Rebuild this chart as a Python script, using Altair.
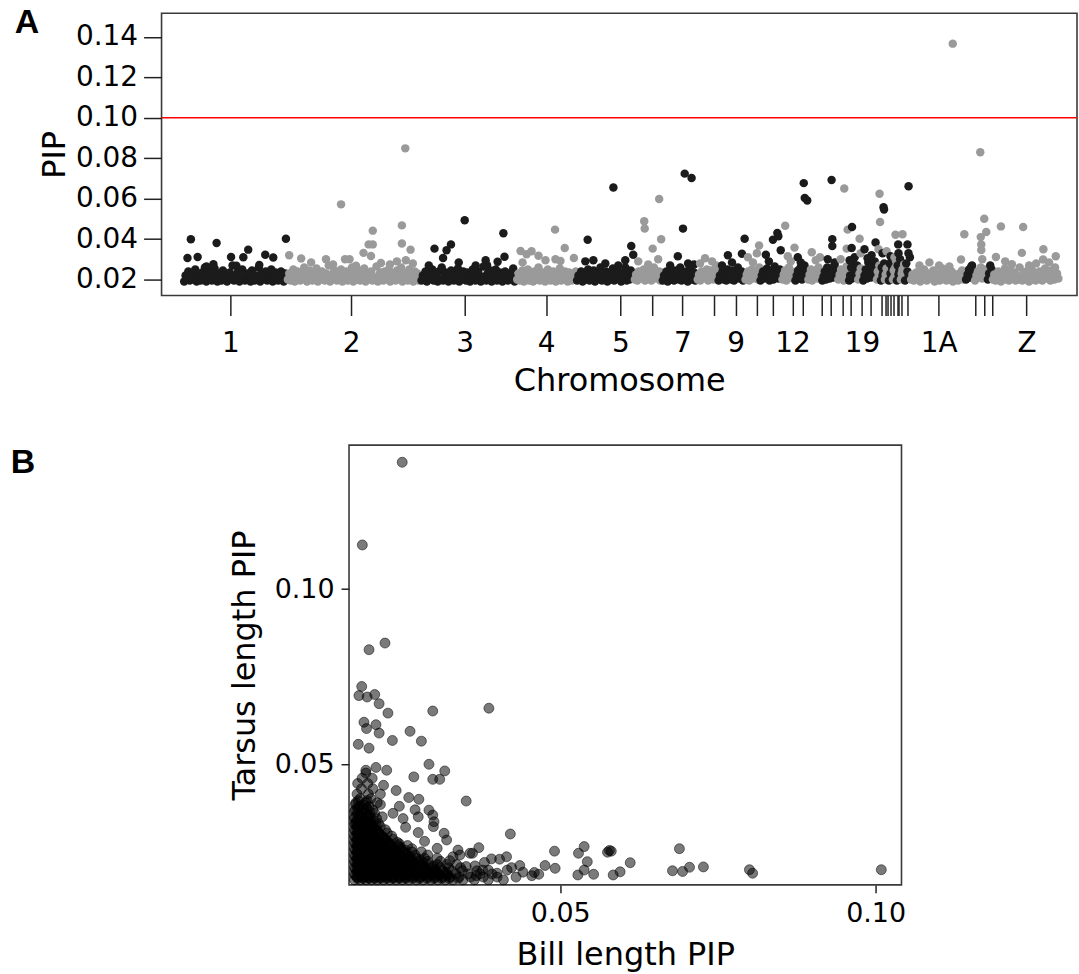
import altair as alt
import pandas as pd

FONT = "DejaVu Sans"
INK = "#222222"

# ---------------- Panel A: genome-wide PIP (Manhattan plot) ----------------
chrom_names = ["1", "2", "3", "4", "5", "6", "7", "8", "9", "10", "11", "12", "13", "14", "15",
               "17", "18", "19", "20", "21", "22", "23", "24", "25", "26", "27", "28",
               "1A", "1B", "4A", "LGE22", "Z"]
chrom_start = [22, 126, 260, 356, 416, 474, 502, 537, 558, 585, 600, 622, 635, 648, 662,
               678, 689, 698, 703, 717, 721, 725, 729, 733, 737, 741, 745,
               751, 806, 815, 828, 833]
chrom_end = [126, 260, 356, 416, 474, 502, 537, 558, 585, 600, 622, 635, 648, 662, 678,
             689, 698, 703, 717, 721, 725, 729, 733, 737, 741, 745, 751,
             806, 815, 828, 833, 900]
chrom_shade = ["dark", "light"] * 16

# background SNP PIPs (x 1e-3), in genome order within each chromosome
band_pip = [
    "19 22 20.5 24 19.5 21 23 20 25 19 22.5 21 19.5 23.5 20 26 19 21.5 24 20.5 19.5 22 25.5 20 19 23 21 19.5 24.5 22 20 19 21.5 23.5 20.5 27 19.5 22 20 24 19 21 25 20.5 19.5 22.5 23 20 19 24.5 21.5 19.5 22 20 26 19 23 21 20.5 24 19.5 22 20 25 19 21.5 23.5 20 19.5 22.5 24 21 19 23 20.5",
    "20 23 19.5 21.5 25 19 22 24 20.5 19.5 23.5 21 26 20 19 22.5 24.5 20.5 19.5 21 23 25.5 19 20 22 24 21.5 19.5 23 20 27 19 22.5 21 24.5 20.5 19.5 23 22 25 19 20 21.5 24 19.5 22.5 20.5 26 19 21 23.5 20 24.5 19.5 22 21 25.5 19 20.5 23 22 24 19.5 21 20 26.5 19 22.5 23.5 20.5 19.5 24 21 22 25 19 20 23 21.5 19.5 24.5 20.5 22 26 19 21 23 20 19.5 25 22.5 21 19 24 20.5 23 19.5 21.5",
    "19.5 22 20 24 19 21.5 23 20.5 25 19.5 22.5 21 19 24 20 26 19.5 21 23.5 20.5 19 22 24.5 20 19.5 21.5 23 25.5 19 20.5 22 24 21 19.5 23.5 20 19 22.5 25 20.5 19.5 21 24 22 19 20 26.5 21.5 19.5 23 20.5 24.5 19 22 21 25 19.5 20 23.5 22 19 21.5 24 20.5 19.5 23 22.5 20 25.5 19 21",
    "20 23 19.5 21.5 24.5 19 22 20.5 25 19.5 23 21 19 24 22 20 26 19.5 21.5 23.5 20.5 19 22.5 25 20 19.5 21 24 22 19 23 20.5 25.5 19.5 21.5 22 24 20 19 23.5 21 19.5 22.5 20.5 24",
    "19.5 22 20.5 24 19 21.5 23 20 25 19.5 22.5 21 24.5 19 20 23.5 22 26 19.5 21 20.5 24 19 22.5 23 20 25.5 19.5 21.5 22 24 20.5 19 23 21 26 19.5 22.5 20 24.5 21.5 23",
    "20 22.5 19.5 24 21 23 20.5 25 19.5 22 21.5 24.5 20 19.5 23 26 21 20.5 22.5 24 19.5 23.5",
    "19.5 22 20.5 24 19 21.5 23 25 20 19.5 22.5 24.5 21 20 26 19.5 23 21.5 20.5 24 19 22 25.5 20 21 23.5 19.5 22",
    "20 22.5 19.5 24 21 23 20.5 25 19.5 22 24.5 21 20 23.5 26 21.5",
    "19.5 22 21 24 20 23 19.5 25 21.5 22.5 20 24.5 19.5 23.5 21 26 20.5 22 24 19.5 23",
    "20 22.5 24 19.5 21.5 25 20.5 23 22 24.5 20 26",
    "19.5 22 24 20.5 23 25.5 21 19.5 22.5 24.5 20 26.5 21.5 23.5 20.5 25 22",
    "20 22.5 24.5 19.5 23 26 21 24 20.5 22",
    "19.5 22 24.5 21 26 20 23.5 27 21.5 24",
    "20 22.5 25 19.5 23.5 21 24.5 20.5 26 22 23",
    "19.5 21.5 24 20 26 22.5 20.5 25.5 23 21 27 24 22",
    "20 22.5 25 21 19.5 24 26.5 22",
    "19.5 22 26 20.5 28 23 21 25 27",
    "20 23 25.5 21.5",
    "19.5 22 25 20.5 28.5 23 21 26 24 29 22.5",
    "20 24 21.5 27 23",
    "19.5 26 22 23.5 28",
    "20 22.5 25.5 21 24",
    "19.5 28 23 21 25.5",
    "20 24.5 21.5 26 29",
    "19.5 27 22.5 24 30",
    "20 23 25 21.5 27.5",
    "19.5 28 24 22 31",
    "20 22.5 19.5 21 23.5 20.5 24 19 22 21.5 25 20 19.5 23 21 20.5 22.5 24.5 19 21.5 20 23 19.5 22 25.5 20.5 21 19.5 23.5 22 20 24 19 21 22.5 20.5 19.5 23 21.5 24.5 20 22",
    "20 22.5 25 21 27 23.5",
    "19.5 22 24 21 26 20.5 23 25 22.5",
    "20 23 21.5 25",
    "20 22.5 19.5 21.5 24 20.5 19 23 21 25.5 20 22 19.5 24.5 20.5 21 23.5 19.5 22 20 26 21 19.5 23 20.5 24 22 19 21.5 25 20 23.5 19.5 22.5 21 24 20 19.5 22 25.5 21 20.5 23 19.5 24.5 22 20 21.5 23 20.5",
]

# higher-PIP SNPs: chromosome -> [(position, PIP x 1e-3)]
peak_snps = {
    "1": [(29.4, 39.9), (55.2, 38.1), (26, 30.7), (36.2, 31.2), (69.7, 31.2), (82, 31), (86.9, 34.8),
          (104, 32.3), (112, 30.9), (124.7, 40.2), (52, 27.6), (98, 27.2), (45, 26.5), (75, 26.8)],
    "2": [(180, 57.2), (211.8, 44.2), (207.7, 37.4), (211.8, 37.4), (202.5, 33.2), (210, 31.7), (241, 46.8),
          (241, 37.8), (244.4, 84.9), (249.7, 34.8), (245, 29.5), (164.9, 30), (184, 30), (188.5, 30),
          (128, 32), (140, 30.4), (229, 27.4), (252, 28), (172, 27.5), (150, 28.5), (195, 26.8),
          (220, 28.2), (236, 29)],
    "3": [(273.7, 35.3), (282.3, 30.7), (285.8, 34.5), (290.2, 37.4), (304, 49.3), (326.4, 27.1), (337, 28.8),
          (342.8, 42.9), (343.9, 31.3), (315, 27), (325, 29.5), (298, 28.5), (268, 27)],
    "4": [(360, 34.1), (366, 32.5), (371, 34), (394.6, 44.7), (404.3, 35.6), (413.5, 30.7), (395, 30),
          (385, 29.5), (378, 31.8), (362, 28.5), (400, 29.2)],
    "5": [(427.3, 39.7), (453.1, 65.5), (471, 36.6), (473, 32.3), (445, 28), (465, 29.5), (433, 29.5),
          (425, 29), (458, 27)],
    "6": [(484, 48.8), (484.5, 45.2), (492.5, 35.3), (499, 59.8), (501, 39.9), (498, 30), (478, 29), (488, 27.5)],
    "7": [(524.6, 72.4), (531.5, 70.2), (522.9, 45.2), (517.7, 31.5), (528, 28), (510, 27), (534, 27.5)],
    "8": [(540, 28), (545, 30.5), (552, 29), (556, 27)],
    "9": [(567.9, 32), (584.7, 40.2), (582, 32.8), (572, 28.5), (562, 27)],
    "10": [(599.2, 36.9), (588, 31), (593, 28.5), (597, 33)],
    "11": [(606, 32.3), (613.1, 39.7), (617.5, 43), (618.5, 41.4), (620.9, 34.5), (609, 29)],
    "12": [(625.4, 46.6), (634.7, 35.8), (628, 31.5), (631, 29)],
    "13": [(644, 67.7), (645, 60.4), (647.5, 59.1), (641, 28.5), (638, 31)],
    "14": [(660.3, 31), (652, 33.5), (656, 29.5)],
    "15": [(671.9, 69.3), (672.6, 40), (672.6, 36.6), (668, 30), (675, 28.5)],
    "17": [(684.6, 65), (688, 44.7), (687, 35.3), (681, 30)],
    "18": [(692.4, 46), (692, 35.6), (695, 31), (690, 29.5)],
    "19": [(700, 40.2), (701, 33)],
    "20": [(704.9, 35), (716, 38.3), (712, 32), (708, 30.5)],
    "21": [(720, 62.4), (720.5, 48.5), (719, 35)],
    "22": [(724, 55.8), (724.5, 54.7), (723, 33)],
    "23": [(727, 34)],
    "24": [(731, 31.5)],
    "25": [(736, 42.2), (735, 31)],
    "26": [(738.7, 37.4), (739, 33)],
    "27": [(743, 42.4)],
    "28": [(749.1, 66.2), (748, 37.4), (749, 33)],
    "1A": [(779.7, 27), (793.4, 136.7), (805, 42.4), (801.7, 29.9), (770, 28.5), (760, 27), (790, 26.5)],
    "1B": [(812, 26.5)],
    "4A": [(821, 83), (825, 50.1), (821.5, 41), (822, 37.4), (822, 34.6), (827, 43.5), (823, 30)],
    "LGE22": [(831, 27)],
    "Z": [(836.7, 31.2), (841.7, 46.3), (852.7, 27.6), (862.7, 33.2), (864, 46), (870, 27), (884.3, 35),
          (884, 29.9), (896.7, 31.5), (896, 26), (846, 29), (877, 28), (890, 28.5)],
}

tick_pos = [69, 190, 304, 385.7, 460, 492.3, 522.3, 554.3, 575.7, 597.3, 613.3, 632.7, 642.7, 662.3,
            670.7, 683.3, 690.7, 702.3, 711, 722.3, 725.7, 728.3, 731, 734.3, 737.5, 739.3, 742.3,
            747.7, 779.3, 815.7, 824.7, 833.3, 867.3]
tick_text = ["1", "2", "3", "4", "5", "", "7", "", "9", "", "", "12", "", "", "", "", "", "19", "",
             "", "", "", "", "", "", "", "", "", "1A", "", "", "", "Z"]
threshold = [0.10]

rows = []
for name, s, e, shade, band in zip(chrom_names, chrom_start, chrom_end, chrom_shade, band_pip):
    vals = [float(v) for v in band.split()]
    n = len(vals)
    for i, v in enumerate(vals):
        rows.append({"chrom": name, "pos": s + (i + 0.5) * (e - s) / n, "pip": v / 1000, "shade": shade})
    for p, v in peak_snps.get(name, []):
        rows.append({"chrom": name, "pos": p, "pip": v / 1000, "shade": shade})
df_a = pd.DataFrame(rows)

label_expr = " : ".join(
    f"abs(datum.value - {p}) < 0.05 ? '{t}'" for p, t in zip(tick_pos, tick_text) if t
) + " : ''"

x_a = alt.X("pos:Q", title="Chromosome",
            scale=alt.Scale(domain=[0, 918], nice=False, zero=False),
            axis=alt.Axis(values=tick_pos, labelExpr=label_expr, tickSize=20, labelPadding=14,
                          titlePadding=8, labelOverlap=False, labelFlush=False))
y_a = alt.Y("pip:Q", title="PIP",
            scale=alt.Scale(domain=[0.0121, 0.1517], nice=False, zero=False),
            axis=alt.Axis(values=[0.02, 0.04, 0.06, 0.08, 0.10, 0.12, 0.14], format=".2f",
                          tickSize=18, labelPadding=6, titlePadding=4))

pts_a = alt.Chart(df_a).mark_circle(size=72, opacity=1).encode(
    x=x_a, y=y_a,
    color=alt.Color("shade:N", scale=alt.Scale(domain=["dark", "light"], range=["#1b1b1b", "#9a9a9a"]),
                    legend=None),
)
rule_a = alt.Chart(pd.DataFrame({"pip": threshold})).mark_rule(color="#ff0000", strokeWidth=1.5).encode(
    y=alt.Y("pip:Q"))
lab_a = alt.Chart(pd.DataFrame({"t": ["A"]})).mark_text(
    font="Liberation Sans", fontWeight="bold", fontSize=34, align="center", baseline="middle", color="black"
).encode(text="t:N", x=alt.value(-135), y=alt.value(10))

top = alt.layer(pts_a, rule_a, lab_a).properties(width=918, height=283)

# ---------------- Panel B: bill vs tarsus PIP ----------------
# dense cloud: tarsus PIP (x 1e-3) -> bill PIPs (x 1e-3)
cloud_rows = {
    17.0: "17.4 18.3 19.2 20.1 21 22 23 24 25 26 27.2 28.3 29.5 30.6 31.8 33 34.6 36.4 38.6 41",
    17.4: "17.9 18.8 19.7 20.6 21.5 22.5 23.5 24.5 25.5 26.6 27.7 28.9 30 31.2 32.4 33.8",
    17.8: "17.8 18.8 19.7 20.6 21.5 22.5 23.5 24.5 25.6 26.7 27.8 29 30.2 31.3 32.5 34 35.8 37.8 40 43",
    18.3: "17.5 18.4 19.3 20.2 21.1 22 23 24 25 26.1 27.2 28.4 29.6 30.8 32.2",
    18.7: "17.4 18.3 19.2 20.2 21.1 22 23 24 25 26 27.2 28.4 29.6 30.8 32 33.5 35.4 37.3 39.2",
    19.2: "17.9 18.9 19.8 20.7 21.6 22.6 23.6 24.6 25.7 26.8 27.9 29.1 30.4 31.8",
    19.6: "17.8 18.8 19.7 20.7 21.6 22.6 23.6 24.6 25.6 26.7 27.8 29 30.2 31.4 32.8 34.5 36.8",
    20.1: "17.5 18.4 19.3 20.3 21.2 22.2 23.2 24.2 25.3 26.4 27.5 28.8 30.2",
    20.5: "17.4 18.3 19.3 20.2 21.2 22.1 23.1 24.1 25.1 26.2 27.3 28.5 29.7 31 32.3 34.2",
    21.0: "17.9 18.9 19.8 20.8 21.7 22.7 23.7 24.8 25.9 27 28.3 29.8",
    21.4: "17.8 18.8 19.8 20.7 21.7 22.7 23.7 24.7 25.8 26.9 28 29.2 30.5 32 33.6",
    21.9: "17.5 18.5 19.4 20.4 21.4 22.4 23.4 24.5 25.6 26.8 28.2",
    22.3: "17.4 18.4 19.3 20.3 21.2 22.2 23.2 24.3 25.3 26.5 27.7 29 31",
    22.8: "17.9 18.9 19.9 20.9 21.9 22.9 24 25.1 26.4 27.8",
    23.2: "17.8 18.8 19.8 20.8 21.8 22.8 23.8 24.9 26 27.2 28.5 30.5",
    23.7: "17.5 18.5 19.5 20.5 21.5 22.6 23.7 24.9 26.2",
    24.1: "17.4 18.4 19.4 20.3 21.3 22.3 23.4 24.5 25.6 27 29",
    24.6: "17.9 18.9 19.9 20.9 22 23.1 24.3 25.6",
    25.0: "17.8 18.8 19.8 20.8 21.9 22.9 24 25.2 26.5 28",
    25.5: "17.5 18.5 19.5 20.6 21.7 22.8 24 25.4",
    25.9: "17.4 18.4 19.4 20.4 21.4 22.5 23.6 24.8 26.5",
    26.4: "17.9 18.9 19.9 21 22.1 23.3 24.6",
    26.8: "17.8 18.8 19.9 20.9 22 23.1 24.3 25.8",
    27.3: "17.5 18.5 19.6 20.7 21.8 23 24.5",
    27.7: "17.4 18.4 19.5 20.5 21.6 22.8 24.2",
    28.2: "17.9 19 20 21.1 22.4",
    28.6: "17.8 18.9 19.9 21 22.2 23.5",
    29.1: "17.5 18.6 19.7 20.8 22",
    29.5: "17.4 18.5 19.5 20.6 21.8 23.3",
    30.0: "17.9 19 20.1 21.4",
    30.4: "17.8 18.9 20 21.2 22.6",
    31.0: "17.5 18.6 19.8 21",
    31.3: "17.4 18.5 19.6 20.8 22.3",
    32.0: "17.9 19.1 20.4",
    32.2: "17.8 18.9 20.1 21.5",
    32.7: "17.5 18.4 19.5 20.8",
    33.1: "17.4 18.6 19.8 21.2",
    33.5: "17.6 18.8 20",
    34.0: "17.8 19 20.4",
    34.5: "17.4 18.3 19.5 20.9",
    35.0: "17.4 18.6 19.9 21.8",
    35.5: "18.3 19.6",
    36.0: "17.9 19.2 20.6",
    36.5: "17.4 18.5 19.8",
    37.0: "17.5 18.8 20.3",
    37.5: "17.9 19.3",
    38.0: "18.2 19.7",
    38.5: "17.5 18.8",
    39.0: "17.6 19.2 21",
    39.6: "18 19.4",
    40.2: "18.3 20",
    41.5: "17.8 19.6 21.5",
    43.0: "18.5 20.3",
    44.5: "17.9 19.5",
    46.0: "18.6 20.2",
    47.5: "19.2",
}
# individual SNPs outside the cloud (x 1e-3)
bill_sparse = [24.96, 18.64, 19.7, 22.23, 18.54, 18.1, 19.4, 20.6, 21.3, 22.7, 29.8, 38.7, 18.9, 19.3,
               20.8, 21.3, 23.4, 26.2, 28.0, 18.0, 19.7, 29.2, 31.7, 29.8, 30.9, 26.8, 20.8, 22.5, 19.2,
               35.1, 27.6, 42.1, 49.1, 52.9, 53.8, 54.3, 53.8, 55.3, 52.8, 57.5, 58.1, 61.1, 58.4, 59.5,
               49.2, 47.6, 45.9, 46.6, 45.5, 44.1, 43.6, 42.3, 41.6, 40.4, 41.5, 39.1, 38.6, 40.0, 36.1,
               37.1, 35.1, 37.7, 36.7, 68.9, 67.8, 69.4, 70.5, 72.7, 80.0, 80.5, 100.9, 57.8, 23.5, 25.1,
               27.5, 29.2, 29.8, 30.0, 29.9, 31.6, 32.0, 33.8, 34.1, 33.0, 35.7, 22.0, 24.0, 26.0, 21.5,
               24.5, 27.0, 25.5, 27.5, 28.5, 30.5, 32.5, 36.5, 38.0]
tarsus_sparse = [136.2, 112.6, 82.7, 84.6, 72.2, 69.6, 69.2, 69.9, 67.3, 64.6, 65.2, 66.0, 62.0, 60.2,
                 61.3, 58.9, 56.8, 59.4, 56.6, 55.7, 54.6, 50.0, 48.1, 45.7, 45.7, 46.4, 49.1, 48.3, 48.3,
                 39.5, 40.0, 30.1, 25.2, 24.6, 26.5, 22.2, 19.8, 18.6, 18.4, 24.9, 25.2, 21.9, 18.4, 19.3,
                 20.3, 21.1, 19.1, 18.6, 18.2, 19.2, 21.1, 20.5, 19.8, 22.9, 23.6, 23.0, 19.8, 18.9, 24.6,
                 26.2, 20.8, 19.8, 18.2, 25.9, 19.6, 19.4, 20.6, 20.7, 19.9, 18.9, 19.9, 25.4, 36.0, 34.5,
                 35.0, 36.9, 35.5, 33.6, 32.2, 30.3, 28.4, 25.5, 24.1, 23.6, 24.6, 44.0, 42.5, 40.5, 38.5,
                 38.0, 37.0, 32.0, 30.5, 28.0, 26.0, 22.5, 21.0, 22.0]

rows_b = []
for t, xs in cloud_rows.items():
    for b in xs.split():
        rows_b.append({"bill": float(b) / 1000, "tarsus": t / 1000})
for b, t in zip(bill_sparse, tarsus_sparse):
    rows_b.append({"bill": b / 1000, "tarsus": t / 1000})
df_b = pd.DataFrame(rows_b)

scatter = alt.Chart(df_b).mark_point(
    shape="circle", filled=True, size=100, opacity=1, fill="black", fillOpacity=0.52,
    stroke="black", strokeOpacity=0.5, strokeWidth=1
).encode(
    x=alt.X("bill:Q", title="Bill length PIP",
            scale=alt.Scale(domain=[0.01653, 0.1041], nice=False, zero=False),
            axis=alt.Axis(values=[0.05, 0.10], format=".2f", tickSize=8, labelPadding=8,
                          titlePadding=13, labelFontSize=27)),
    y=alt.Y("tarsus:Q", title="Tarsus length PIP",
            scale=alt.Scale(domain=[0.01557, 0.1411], nice=False, zero=False),
            axis=alt.Axis(values=[0.05, 0.10], format=".2f", tickSize=8, labelPadding=7,
                          titlePadding=13, labelFontSize=27)),
).properties(width=554, height=441)

spacer = alt.Chart(pd.DataFrame({"t": ["B"]})).mark_text(
    font="Liberation Sans", fontWeight="bold", fontSize=34, align="center", baseline="middle", color="black"
).encode(text="t:N", x=alt.value(-139), y=alt.value(18)).properties(
    width=65, height=441, view=alt.ViewBackground(stroke="transparent"))

bottom = alt.hconcat(spacer, scatter, spacing=0)

chart = alt.vconcat(top, bottom, spacing=47).properties(
    padding={"left": 9, "top": 4, "right": 0, "bottom": 0}
).configure_view(
    stroke="#3a3a3a", strokeWidth=1.6
).configure_axis(
    domain=False, grid=False, tickColor=INK, tickWidth=1.5,
    labelFont=FONT, labelFontSize=28, labelColor="black",
    titleFont=FONT, titleFontSize=32, titleFontWeight="normal", titleColor="black"
)

chart.save("out.html", embed_options={"renderer": "svg", "actions": False})
